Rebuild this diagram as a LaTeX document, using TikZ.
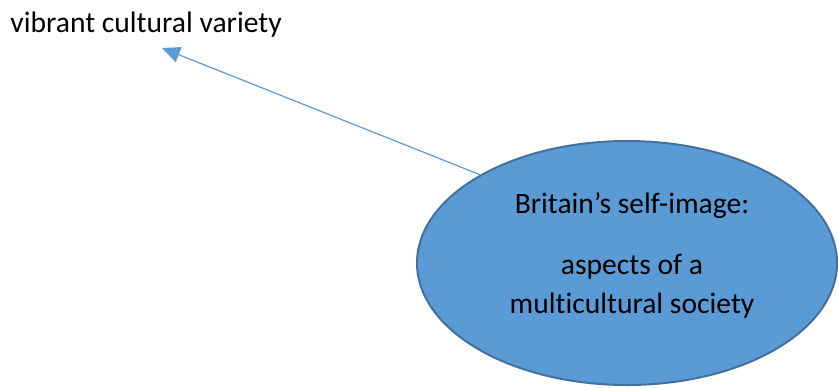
\documentclass[tikz,border=0pt]{standalone}
\usepackage{fontspec}
\setmainfont{Carlito}[Ligatures=NoCommon]
\usetikzlibrary{shapes.geometric,arrows.meta}
\definecolor{ovalblue}{HTML}{5B9BD5}
\definecolor{ovaledge}{HTML}{41719C}

\begin{document}
\begin{tikzpicture}[x=0.5pt,y=-0.5pt,
  oval/.style={ellipse,draw=ovaledge,line width=1pt,fill=ovalblue,minimum width=210pt,minimum height=122pt,inner sep=0pt,font=\fontsize{14.8}{19.5}\selectfont},
  topic/.style={font=\fontsize{14.8}{19.5}\selectfont,inner sep=0pt}]
\useasboundingbox (0,0) rectangle (838,387);
\node[oval] (image) at (627,263) {\hspace*{5pt}\raisebox{3.5pt}[\height][\depth]{\begin{tabular}{@{}c@{}}Britain’s self-image:\\[11pt] aspects of a\\ multicultural society\end{tabular}}};
\node[topic,anchor=base west] (variety) at (10,32) {vibrant cultural variety};
\coordinate (tip) at (162,48);
\draw[-{Triangle[length=9pt,width=8pt]},ovalblue,line width=0.6pt] (image.149) -- (tip);
\end{tikzpicture}
\end{document}
